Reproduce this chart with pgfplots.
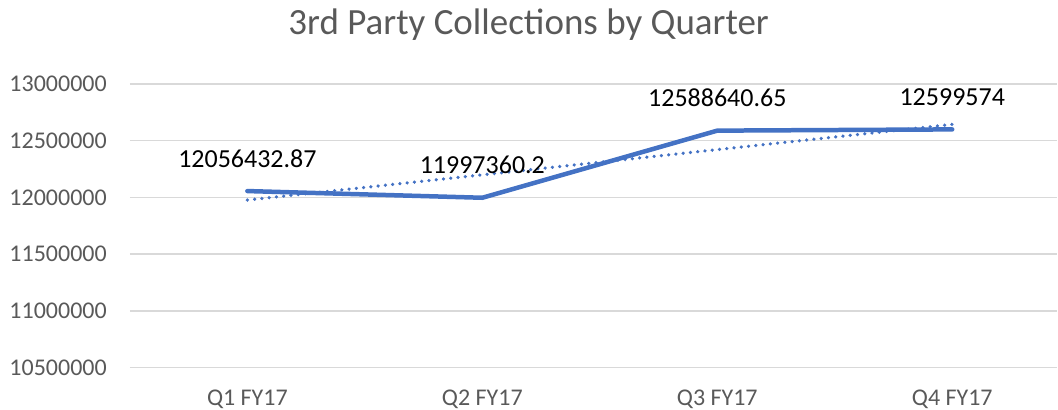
\documentclass[border=0pt]{standalone}
\usepackage{fontspec}
\setmainfont{Carlito}
\usepackage{pgfplots}
\pgfplotsset{compat=1.18}

\definecolor{xlblue}{HTML}{4472C4}
\definecolor{xlgrid}{HTML}{D9D9D9}
\definecolor{xltext}{HTML}{595959}

\begin{document}
\begin{tikzpicture}
\begin{axis}[
    scale only axis,
    width=928pt, height=284pt,
    xmin=-0.5, xmax=3.447,
    ymin=10500000, ymax=13000000,
    xtick={0,1,2,3},
    xticklabels={Q1 FY17, Q2 FY17, Q3 FY17, Q4 FY17},
    ytick={10500000,11000000,11500000,12000000,12500000,13000000},
    scaled y ticks=false,
    yticklabel={\pgfmathprintnumber[fixed,precision=0,1000 sep={}]{\tick}},
    /pgf/number format/assume math mode=true,
    major tick length=0pt,
    axis line style={draw=none},
    ymajorgrids,
    grid style={xlgrid, line width=1.5pt},
    ticklabel style={font=\fontsize{24}{28}\selectfont, text=xltext, inner sep=0pt},
    yticklabel style={xshift=-23pt},
    xticklabel style={yshift=-22pt},
    title={3rd Party Collections by Quarter},
    title style={at={(axis description cs:0.43,1)}, anchor=base, yshift=43pt,
                 font=\fontsize{37}{42}\selectfont, text=xltext},
    clip=false,
    ]
    % quarterly collections
    \addplot[xlblue, line width=4.5pt, line cap=round, line join=round,
        nodes near coords, point meta=explicit symbolic,
        every node near coord/.style={anchor=base, yshift=24pt, inner sep=0pt,
            text=black, font=\fontsize{26}{30}\selectfont}]
    coordinates {
        (0,12056432.87) [12056432.87]
        (1,11997360.2)  [11997360.2]
        (2,12588640.65) [12588640.65]
        (3,12599574)    [12599574]
    };
    % linear trendline
    \addplot[xlblue, line width=3.6pt, line cap=round, dash pattern=on 0.01pt off 7.3pt]
    coordinates {
        (0,11977396.35)
        (3,12643607.5)
    };
\end{axis}
% fix the page to the reference's 1058 x 410 frame
\path (current axis.south west) ++(-130pt,-42pt) rectangle ++(1058pt,410pt);
\end{tikzpicture}
\end{document}
